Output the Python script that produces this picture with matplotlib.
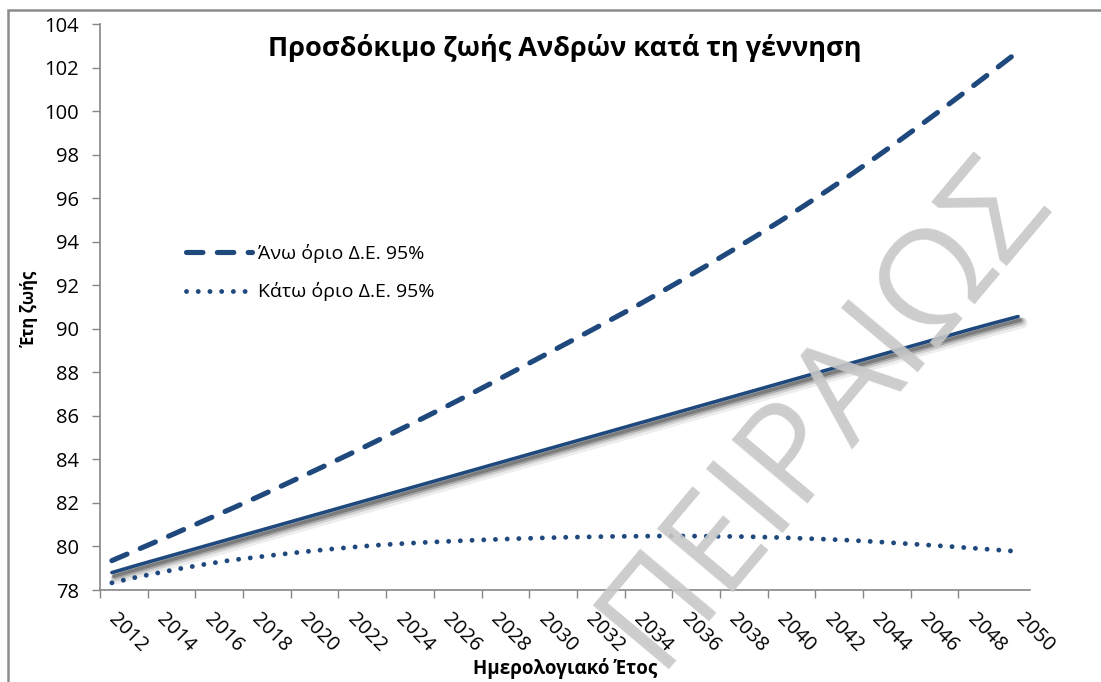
import matplotlib
matplotlib.use("Agg")
import matplotlib.pyplot as plt
import matplotlib.patheffects as pe

plt.rcParams['font.family'] = ['Open Sans', 'DejaVu Sans']

years = list(range(2012, 2051))
tick_years = years[::2]

# κεντρική εκτίμηση
central = [78.80, 79.12, 79.43, 79.74, 80.05, 80.36, 80.67, 80.98, 81.29, 81.60,
           81.91, 82.22, 82.53, 82.84, 83.15, 83.46, 83.77, 84.08, 84.39, 84.70,
           85.01, 85.32, 85.63, 85.94, 86.25, 86.56, 86.87, 87.18, 87.49, 87.80,
           88.11, 88.42, 88.73, 89.04, 89.35, 89.66, 89.97, 90.27, 90.56]
# άνω όριο
upper = [79.35, 79.82, 80.29, 80.77, 81.25, 81.73, 82.22, 82.72, 83.23, 83.74,
         84.26, 84.79, 85.33, 85.87, 86.42, 86.98, 87.55, 88.13, 88.71, 89.29,
         89.87, 90.46, 91.05, 91.67, 92.30, 92.94, 93.59, 94.25, 94.93, 95.63,
         96.35, 97.09, 97.85, 98.63, 99.43, 100.24, 101.06, 101.89, 102.73]
# κάτω όριο
lower = [78.33, 78.58, 78.80, 79.01, 79.20, 79.37, 79.50, 79.63, 79.75, 79.86,
         79.96, 80.05, 80.12, 80.18, 80.23, 80.28, 80.32, 80.36, 80.39, 80.42,
         80.44, 80.46, 80.47, 80.48, 80.48, 80.47, 80.46, 80.44, 80.41, 80.37,
         80.33, 80.28, 80.22, 80.15, 80.08, 80.01, 79.93, 79.85, 79.77]

blue = '#1F497D'
W, H = 1101, 682
fig = plt.figure(figsize=(W / 100, H / 100), dpi=100)
ax = fig.add_axes([100 / W, (H - 590) / H, 930 / W, 566 / H])

# chart border (only left & top visible in the crop)
fig.add_artist(plt.Rectangle((8 / W, -0.1), 1.2, 1.1 - 10 / H,
                             transform=fig.transFigure, fill=False,
                             ec='#8C8C8C', lw=1.8))

x = list(range(len(years)))

shadow = [pe.SimpleLineShadow(offset=(3, -4.5), shadow_color='k', alpha=0.07, linewidth=8),
          pe.SimpleLineShadow(offset=(2.5, -3.5), shadow_color='k', alpha=0.12, linewidth=6),
          pe.SimpleLineShadow(offset=(2, -3), shadow_color='k', alpha=0.2, linewidth=4),
          pe.SimpleLineShadow(offset=(1.5, -2.5), shadow_color='k', alpha=0.25, linewidth=2.5),
          pe.Normal()]
ax.plot(x, central, color=blue, lw=2.6, solid_capstyle='round', path_effects=shadow, zorder=3)
up_line, = ax.plot(x, upper, color=blue, lw=3.7, dash_capstyle='round',
                   dashes=(3.2, 2.8), label='Άνω όριο Δ.Ε. 95%', zorder=3)
lo_line, = ax.plot(x, lower, color=blue, lw=3.5, dash_capstyle='round',
                   dashes=(0.01, 2.4), label='Κάτω όριο Δ.Ε. 95%', zorder=3)

ax.set_xlim(-0.5, len(years) - 0.5)
ax.set_ylim(78, 104)
ax.set_yticks(range(78, 105, 2))

ax.set_xticks([i - 0.5 for i in range(0, len(years) - 1, 2)])
ax.set_xticklabels([])
ax.set_xticks(range(0, len(years), 2), minor=True)
ax.set_xticklabels([str(y) for y in tick_years], minor=True, rotation=-45,
                   ha='left', va='center', rotation_mode='anchor', fontsize=14.5)
ax.tick_params(axis='x', which='minor', length=0, pad=19)
ax.tick_params(axis='x', which='major', length=6, width=1, color='#868686', direction='out')
ax.tick_params(axis='y', length=6, width=1, color='#868686', direction='out',
               labelsize=14.5, pad=9)

for s in ['top', 'right']:
    ax.spines[s].set_visible(False)
for s in ['left', 'bottom']:
    ax.spines[s].set_color('#868686')
    ax.spines[s].set_linewidth(1.2)

ax.text(0.5, 0.958, 'Προσδόκιμο ζωής Ανδρών κατά τη γέννηση', transform=ax.transAxes,
        ha='center', va='center', fontsize=19.5, fontweight='bold')
ax.set_ylabel('Έτη ζωής', fontsize=12, fontweight='bold', va='center')
ax.yaxis.set_label_coords(-0.075, 0.496)
ax.set_xlabel('Ημερολογιακό Έτος', fontsize=13.5, fontweight='bold', va='center')
ax.xaxis.set_label_coords(0.5, -0.138)

fig.legend(handles=[up_line, lo_line], loc='upper left',
           bbox_to_anchor=(186 / W, 1 - 244 / H), frameon=False, fontsize=14,
           handlelength=3.4, handletextpad=0.3, labelspacing=1.0,
           borderpad=0, borderaxespad=0)

# υδατογράφημα
fig.text(825 / W, 1 - 410 / H, 'ΠΕΙΡΑΙΩΣ', rotation=50, fontsize=100,
         color='#C8C8C8', alpha=0.9, ha='center', va='center',
         rotation_mode='anchor', zorder=10)

fig.savefig('out.png', dpi=100)
